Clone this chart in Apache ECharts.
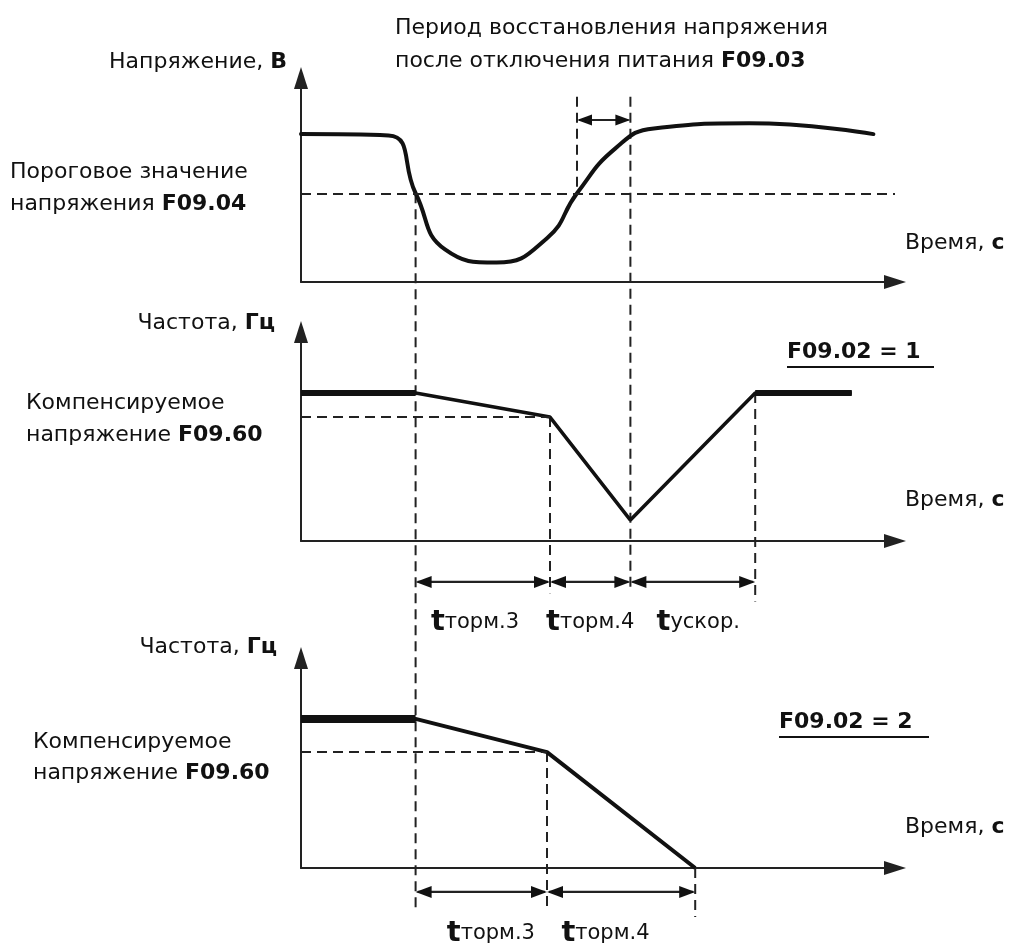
<!DOCTYPE html>
<html>
<head>
<meta charset="utf-8">
<title>F09.02</title>
<script src="https://cdn.jsdelivr.net/npm/echarts@6/dist/echarts.min.js"></script>
<style>
html,body{margin:0;padding:0;background:#fff;}
#main{width:1018px;height:947px;}
</style>
</head>
<body>
<div id="main"></div>
<script>
// время в условных единицах 0..100, значения по оси Y тоже 0..100
var voltTime  = [0, 14.6, 19.1, 24, 32.6, 41, 46, 52.4, 58.8, 74.7, 95.4];
var voltValue = [72.5, 71.8, 43.5, 16, 9.5, 21.5, 43.5, 65.5, 75.3, 77.8, 72.5];

var freq1Time  = [0, 19.1, 41.5, 54.9, 75.7, 91.8];
var freq1Value = [70.8, 70.8, 59.3, 10, 70.8, 70.8];

var freq2Time  = [0, 19.1, 41, 65.7];
var freq2Value = [71, 71, 55.2, 0];

var threshold = 43.5;   // F09.04
var comp1 = 59.3;       // F09.60, F09.02 = 1
var comp2 = 55.2;       // F09.60, F09.02 = 2

// моменты времени
var tDrop = 19.1, tUp = 46, tRestore = 54.9, tBrake1 = 41.5, tAccEnd = 75.7, tBrake2 = 41, tStop = 65.7;

var FONT = 'DejaVu Sans';
var INK = '#111';

var Diagram = {
	chart: null,
	init: function(){
		this.chart = echarts.init(document.getElementById('main'));
		this.chart.setOption(this.baseOption());
		this.chart.setOption({graphic: this.annotations()});
	},
	pairs: function(ts, vs){
		var out = [];
		for (var i = 0; i < ts.length; i++) out.push([ts[i], vs[i]]);
		return out;
	},
	axis: function(idx, isX){
		return {
			type: 'value', gridIndex: idx, min: 0, max: 100,
			axisLine: {show: true, onZero: false, symbol: ['none', 'triangle'], symbolSize: [14, 22],
				symbolOffset: [0, isX ? -6 : 0],
				lineStyle: {color: '#222', width: 2}},
			axisTick: {show: false}, axisLabel: {show: false}, splitLine: {show: false}
		};
	},
	dashH: function(v, t1, t2){
		return [{coord: [t1, v]}, {coord: [t2, v]}];
	},
	baseOption: function(){
		var that = this;
		var dashStyle = {color: '#222', width: 2, type: [10, 6]};
		return {
			animation: false,
			backgroundColor: '#fff',
			grid: [
				{left: 301, top: 78, width: 600, height: 204},
				{left: 301, top: 332, width: 600, height: 209},
				{left: 301, top: 658, width: 600, height: 210}
			],
			xAxis: [that.axis(0, true), that.axis(1, true), that.axis(2, true)],
			yAxis: [that.axis(0), that.axis(1), that.axis(2)],
			series: [
				{
					name: 'Напряжение', type: 'line', xAxisIndex: 0, yAxisIndex: 0,
					smooth: 0.5, symbol: 'none',
					lineStyle: {color: INK, width: 4, join: 'round', cap: 'round'},
					data: that.pairs(voltTime, voltValue),
					markLine: {silent: true, symbol: 'none', label: {show: false}, lineStyle: dashStyle,
						data: [that.dashH(threshold, 0, 99)]}
				},
				{
					name: 'Частота 1', type: 'line', xAxisIndex: 1, yAxisIndex: 1,
					symbol: 'none', lineStyle: {color: INK, width: 3.5},
					data: that.pairs(freq1Time, freq1Value),
					markLine: {silent: true, symbol: 'none', label: {show: false}, lineStyle: dashStyle,
						data: [that.dashH(comp1, 0, tBrake1)]}
				},
				{
					name: 'Частота 1 уст.', type: 'line', xAxisIndex: 1, yAxisIndex: 1,
					symbol: 'none', lineStyle: {color: INK, width: 6},
					data: that.pairs(freq1Time.slice(0, 2), freq1Value.slice(0, 2))
				},
				{
					name: 'Частота 1 уст. 2', type: 'line', xAxisIndex: 1, yAxisIndex: 1,
					symbol: 'none', lineStyle: {color: INK, width: 6},
					data: that.pairs(freq1Time.slice(4), freq1Value.slice(4))
				},
				{
					name: 'Частота 2', type: 'line', xAxisIndex: 2, yAxisIndex: 2,
					symbol: 'none', lineStyle: {color: INK, width: 4},
					data: that.pairs(freq2Time, freq2Value),
					markLine: {silent: true, symbol: 'none', label: {show: false}, lineStyle: dashStyle,
						data: [that.dashH(comp2, 0, tBrake2)]}
				},
				{
					name: 'Частота 2 уст.', type: 'line', xAxisIndex: 2, yAxisIndex: 2,
					symbol: 'none', lineStyle: {color: INK, width: 8},
					data: that.pairs(freq2Time.slice(0, 2), freq2Value.slice(0, 2))
				}
			]
		};
	},
	px: function(g, t, v){
		return this.chart.convertToPixel({gridIndex: g}, [t, v]);
	},
	text: function(x, y, str, align){
		return {
			type: 'text', silent: true,
			style: {
				x: x, y: y, text: str,
				align: align || 'left', textAlign: align || 'left',
				verticalAlign: 'middle', textVerticalAlign: 'middle',
				fill: INK,
				rich: {
					n: {fontSize: 22, fontFamily: FONT, fill: INK},
					b: {fontSize: 22, fontFamily: FONT, fontWeight: 'bold', fill: INK},
					t: {fontSize: 29, fontFamily: FONT, fontWeight: 'bold', fill: INK},
					s: {fontSize: 21, fontFamily: FONT, fill: INK}
				}
			}
		};
	},
	arrow: function(x1, x2, y, len, wid){
		len = len || 16; wid = wid || 12;
		return [
			{type: 'line', silent: true, shape: {x1: x1 + 2, y1: y, x2: x2 - 2, y2: y}, style: {stroke: '#222', lineWidth: 2.2}},
			{type: 'polygon', silent: true, shape: {points: [[x1, y], [x1 + len, y - wid / 2], [x1 + len, y + wid / 2]]}, style: {fill: INK}},
			{type: 'polygon', silent: true, shape: {points: [[x2, y], [x2 - len, y - wid / 2], [x2 - len, y + wid / 2]]}, style: {fill: INK}}
		];
	},
	annotations: function(){
		var that = this;
		var els = [];
		// вертикальные пунктиры: [сетка, t, v от, сетка, v до]
		var guides = [
			[0, tDrop, threshold, 2, -21],
			[0, tUp, 90.8, 0, threshold],
			[0, tRestore, 90.8, 1, -23],
			[1, tBrake1, comp1, 1, -25],
			[1, tAccEnd, freq1Value[4], 1, -29],
			[2, tBrake2, comp2, 2, -18.6],
			[2, tStop, 0, 2, -23.3]
		];
		guides.forEach(function(g){
			var a = that.px(g[0], g[1], g[2]);
			var b = that.px(g[3], g[1], g[4]);
			els.push({type: 'line', silent: true, shape: {x1: a[0], y1: a[1], x2: b[0], y2: b[1]},
				style: {stroke: '#222', lineWidth: 2, lineDash: [10, 6]}});
		});

		// размерные стрелки
		var p = that.px(0, tUp, 79.4), q = that.px(0, tRestore, 79.4);
		els = els.concat(that.arrow(p[0], q[0], p[1], 15, 11));

		// [от, до, подпись, сдвиг подписи]
		var row1 = [[tDrop, tBrake1, '{t|t}{s|торм.3}', -1.3], [tBrake1, tRestore, '{t|t}{s|торм.4}', 0], [tRestore, tAccEnd, '{t|t}{s|ускор.}', 0.9]];
		row1.forEach(function(r){
			var a = that.px(1, r[0], -19.6), b = that.px(1, r[1], -19.6);
			els = els.concat(that.arrow(a[0], b[0], a[1]));
			var l = that.px(1, (r[0] + r[1]) / 2 + r[3], -39.2);
			els.push(that.text(l[0], l[1], r[2], 'center'));
		});
		var row2 = [[tDrop, tBrake2, '{t|t}{s|торм.3}', 1.6], [tBrake2, tStop, '{t|t}{s|торм.4}', -2.6]];
		row2.forEach(function(r){
			var a = that.px(2, r[0], -11.4), b = that.px(2, r[1], -11.4);
			els = els.concat(that.arrow(a[0], b[0], a[1]));
			var l = that.px(2, (r[0] + r[1]) / 2 + r[3], -31);
			els.push(that.text(l[0], l[1], r[2], 'center'));
		});

		// подписи
		els.push(that.text(395, 28, '{n|Период восстановления напряжения}'));
		els.push(that.text(395, 61, '{n|после отключения питания }{b|F09.03}'));
		els.push(that.text(287, 62, '{n|Напряжение, }{b|В}', 'right'));
		els.push(that.text(10, 172, '{n|Пороговое значение}'));
		els.push(that.text(10, 204, '{n|напряжения }{b|F09.04}'));
		els.push(that.text(905, 243, '{n|Время, }{b|с}'));

		els.push(that.text(275, 323, '{n|Частота, }{b|Гц}', 'right'));
		els.push(that.text(787, 352, '{b|F09.02 = 1}'));
		els.push({type: 'line', silent: true, shape: {x1: 787, y1: 367, x2: 934, y2: 367}, style: {stroke: INK, lineWidth: 2}});
		els.push(that.text(26, 403, '{n|Компенсируемое}'));
		els.push(that.text(26, 435, '{n|напряжение }{b|F09.60}'));
		els.push(that.text(905, 500, '{n|Время, }{b|с}'));

		els.push(that.text(277, 647, '{n|Частота, }{b|Гц}', 'right'));
		els.push(that.text(779, 722, '{b|F09.02 = 2}'));
		els.push({type: 'line', silent: true, shape: {x1: 779, y1: 737, x2: 929, y2: 737}, style: {stroke: INK, lineWidth: 2}});
		els.push(that.text(33, 742, '{n|Компенсируемое}'));
		els.push(that.text(33, 773, '{n|напряжение }{b|F09.60}'));
		els.push(that.text(905, 827, '{n|Время, }{b|с}'));
		return els;
	}
};

Diagram.init();
</script>
</body>
</html>
